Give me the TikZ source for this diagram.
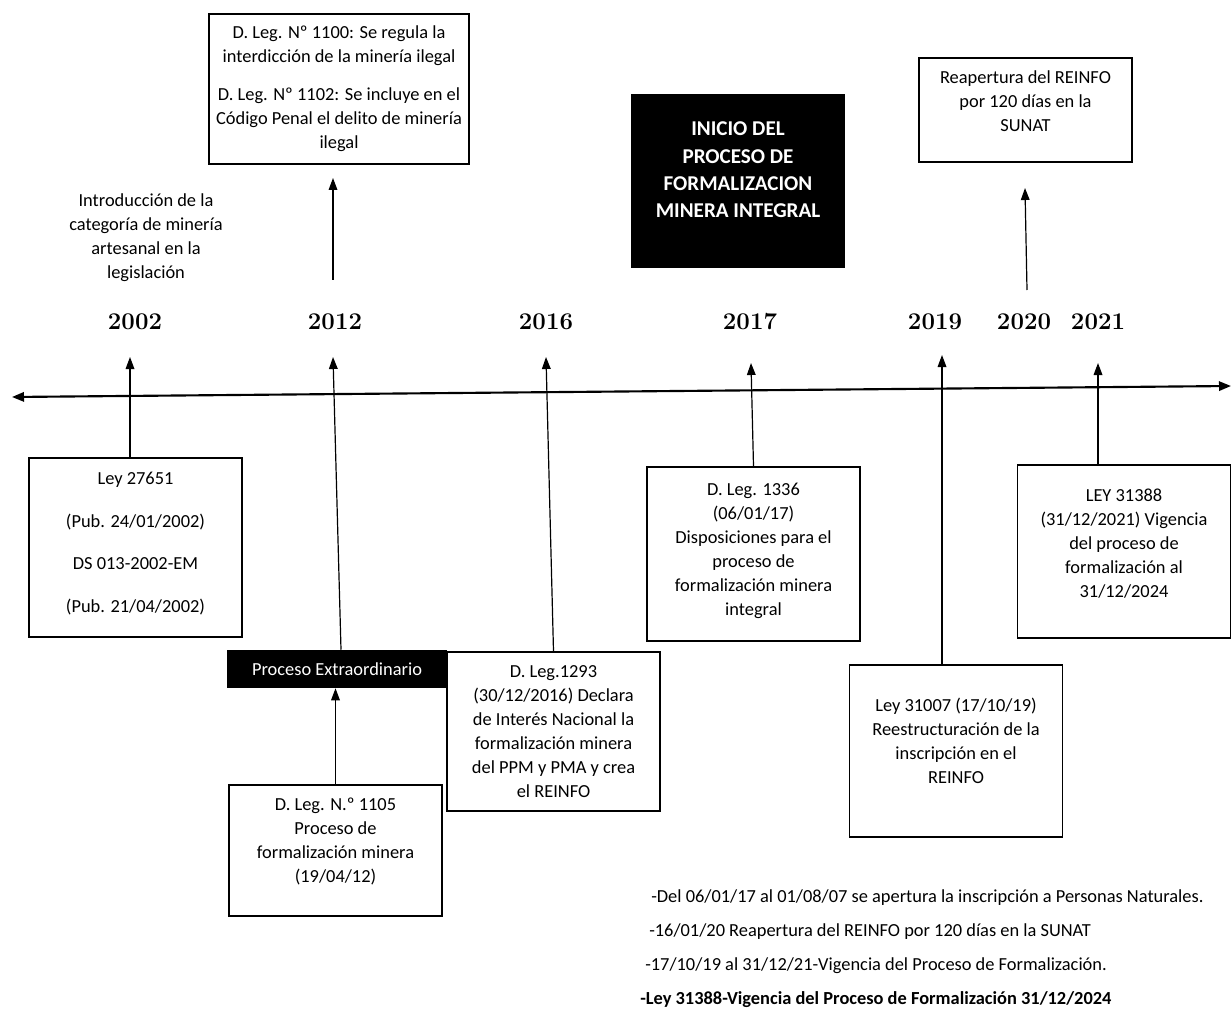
\documentclass[tikz,border=0pt]{standalone}
\usepackage{fontspec}
\newfontfamily\calibri{Carlito}
\usetikzlibrary{arrows.meta}
\tikzset{
  evtbox/.style={draw=black, line width=1.1pt, minimum width=160pt, align=center, inner sep=0pt, font=\calibri\fontsize{13.8}{18}\selectfont},
  darkbox/.style={fill=black, text=white, align=center, inner sep=0pt, font=\calibri\fontsize{13.8}{18}\selectfont},
  plain/.style={align=center, inner sep=0pt, font=\calibri\fontsize{13.8}{18}\selectfont},
  year/.style={inner sep=0pt, anchor=base, font=\bfseries\fontsize{18}{20}\selectfont},
  evt/.style={line width=0.9pt, -{Triangle[length=9pt, width=6.5pt]}},
  axis/.style={line width=1.6pt, {Triangle[length=9pt, width=7pt]}-{Triangle[length=9pt, width=7pt]}}
}
\begin{document}
\begin{tikzpicture}[x=0.75pt, y=-0.75pt]
            \useasboundingbox (0,0) rectangle (1231,1009);
            \coordinate (axL) at (12,397);
            \coordinate (axR) at (1231,386);
            \draw[axis] (axL) -- (axR);
            % years
            \node[year] (y2002) at (135,329) {2002};
            \node[year] (y2012) at (335,329) {2012};
            \node[year] (y2016) at (546,329) {2016};
            \node[year] (y2017) at (750,329) {2017};
            \node[year] (y2019) at (935,329) {2019};
            \node[year] (y2020) at (1024,329) {2020};
            \node[year] (y2021) at (1098,329) {2021};
            \coordinate (t2002) at (130,357);
            \coordinate (t2012) at (333,357);
            \coordinate (t2016) at (546,357);
            \coordinate (t2017) at (751,363);
            \coordinate (t2019) at (942,355);
            \coordinate (t2021) at (1098,363);
            % above the axis
            \node[evtbox, minimum width=195pt, minimum height=112.5pt] (leg1100) at (339,89) {D. Leg. Nº 1100: Se regula la\\ interdicción de la minería ilegal\\[10.5pt] D. Leg. Nº 1102: Se incluye en el\\ Código Penal el delito de minería\\ ilegal};
            \node[plain] (intro) at (146,238) {Introducción de la\\ categoría de minería\\ artesanal en la\\ legislación};
            \node[darkbox, minimum width=160.5pt, minimum height=130.5pt, font=\calibri\bfseries\fontsize{15.8}{20.5}\selectfont] (inicio) at (738,181) {INICIO DEL\\ PROCESO DE\\ FORMALIZACION\\ MINERA INTEGRAL\\[-4pt]};
            \node[evtbox, minimum height=78pt] (reinfo) at (1025.5,110) {Reapertura del REINFO\\ por 120 días en la\\ SUNAT\\[-5pt]};
            \coordinate (b2012) at (333,280);
            \coordinate (h2012) at (333,178);
            \coordinate (b2020) at (1027,290);
            \coordinate (h2020) at (1025,188);
            \draw[evt] (b2012) -- (h2012);
            \draw[evt] (b2020) -- (h2020);
            % below the axis
            \node[evtbox, minimum height=134pt] (ley27651) at (135.5,547.5) {Ley 27651\\[14pt] (Pub. 24/01/2002)\\[14pt] DS 013-2002-EM\\[14pt] (Pub. 21/04/2002)\\[-10pt]};
            \node[darkbox, minimum width=165pt, minimum height=28.5pt] (extra) at (337,669) {Proceso Extraordinario};
            \node[evtbox, minimum height=98pt] (dleg1105) at (335.5,850.5) {D. Leg. N.º 1105\\ Proceso de\\ formalización minera\\ (19/04/12)\\[-3pt]};
            \node[evtbox, minimum height=119pt] (dleg1293) at (553.5,731.5) {D. Leg.1293\\ (30/12/2016) Declara\\ de Interés Nacional la\\ formalización minera\\ del PPM y PMA y crea\\ el REINFO};
            \node[evtbox, minimum height=130.5pt] (dleg1336) at (753.5,554) {D. Leg. 1336\\ (06/01/17)\\ Disposiciones para el\\ proceso de\\ formalización minera\\ integral\\[-10.5pt]};
            \node[evtbox, minimum height=129pt] (ley31007) at (956,751) {Ley 31007 (17/10/19)\\ Reestructuración de la\\ inscripción en el\\ REINFO\\[-3pt]};
            \node[evtbox, minimum height=129.5pt] (ley31388) at (1124,551.5) {LEY 31388\\ (31/12/2021) Vigencia\\ del proceso de\\ formalización al\\ 31/12/2024\\[-5pt]};
            \draw[evt] (t2002 |- ley27651.north) -- (t2002);
            \draw[evt] ([xshift=3pt]extra.north) -- (t2012);
            \draw[evt] (dleg1105.north) -- (dleg1105.north |- extra.south);
            \draw[evt] (dleg1293.north) -- (t2016);
            \draw[evt] (dleg1336.north) -- (t2017);
            \draw[evt] (t2019 |- ley31007.north) -- (t2019);
            \draw[evt] (t2021 |- ley31388.north) -- (t2021);
            % notes
            \node[plain, anchor=west] (nota1) at (651,898) {-Del 06/01/17 al 01/08/07 se apertura la inscripción a Personas Naturales.};
            \node[plain, anchor=west] (nota2) at (649,932) {-16/01/20 Reapertura del REINFO por 120 días en la SUNAT};
            \node[plain, anchor=west] (nota3) at (645,966) {-17/10/19 al 31/12/21-Vigencia del Proceso de Formalización.};
            \node[plain, anchor=west, font=\calibri\bfseries\fontsize{13.8}{18}\selectfont] (nota4) at (640,1000) {-Ley 31388-Vigencia del Proceso de Formalización 31/12/2024};
\end{tikzpicture}
\end{document}
